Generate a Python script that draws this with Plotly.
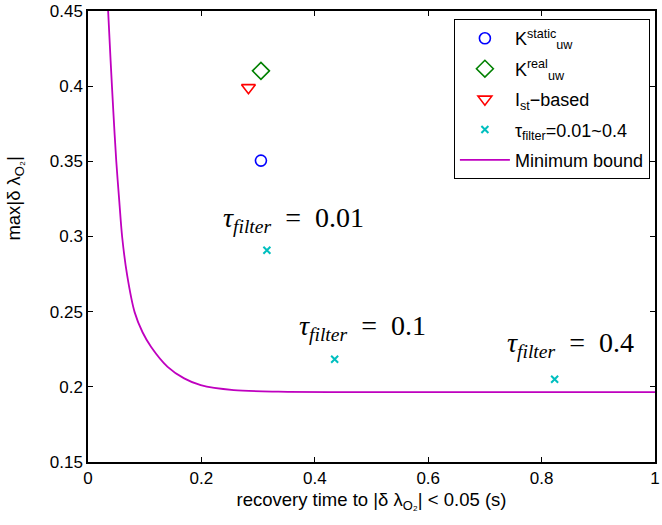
import plotly.graph_objects as go

# ---- data ----
static_x = [0.305]
static_y = [0.3505]
real_x = [0.305]
real_y = [0.4102]
ist_x = [0.283]
ist_y = [0.399]
tau_x = [0.3155, 0.435, 0.823]
tau_y = [0.2908, 0.2184, 0.2051]
tau_labels = ["0.01", "0.1", "0.4"]
tau_label_x = [0.362, 0.484, 0.851]
tau_label_y = [0.311, 0.2395, 0.228]

bound_x = [0.0355, 0.0399, 0.0446, 0.0498, 0.0551, 0.0603, 0.0691, 0.0822, 0.0962,
           0.1114, 0.1404, 0.1696, 0.1988, 0.2570, 0.3357, 0.458, 0.6, 0.8, 1.0]
bound_y = [0.45, 0.4168, 0.3836, 0.3504, 0.3239, 0.2995, 0.2741, 0.2497, 0.2363,
           0.2265, 0.2133, 0.2056, 0.2011, 0.1978, 0.1968, 0.1965, 0.1965, 0.1965, 0.1965]

x_ticks = [0, 0.2, 0.4, 0.6, 0.8, 1]
x_ticktext = ["0", "0.2", "0.4", "0.6", "0.8", "1"]
y_ticks = [0.15, 0.2, 0.25, 0.3, 0.35, 0.4, 0.45]
y_ticktext = ["0.15", "0.2", "0.25", "0.3", "0.35", "0.4", "0.45"]

SANS = "Liberation Sans, Arial, sans-serif"
SERIF = "Liberation Serif, Times New Roman, serif"

fig = go.Figure()
fig.add_trace(go.Scatter(x=static_x, y=static_y, mode="markers", legendgroup="a",
                         name="K<sup>static</sup><sub>uw</sub>",
                         marker=dict(symbol="circle-open", size=11, color="#0000FF",
                                     line=dict(width=1.6, color="#0000FF"))))
fig.add_trace(go.Scatter(x=real_x, y=real_y, mode="markers", legendgroup="b",
                         name="K<sup>real</sup><sub>uw</sub>",
                         marker=dict(symbol="diamond-open", size=13, color="#008000",
                                     line=dict(width=1.6, color="#008000"))))
fig.add_trace(go.Scatter(x=ist_x, y=ist_y, mode="markers", legendgroup="c",
                         name="I<sub>st</sub>−based",
                         marker=dict(symbol="triangle-down-open", size=12, color="#FF0000",
                                     line=dict(width=1.6, color="#FF0000"))))
fig.add_trace(go.Scatter(x=tau_x, y=tau_y, mode="markers", legendgroup="d",
                         name="τ<sub>filter</sub>=0.01~0.4",
                         marker=dict(symbol="x-thin-open", size=7, color="#00BFBF",
                                     line=dict(width=2, color="#00BFBF"))))
fig.add_trace(go.Scatter(x=bound_x, y=bound_y, mode="lines", legendgroup="e",
                         name="Minimum bound", line_shape="spline",
                         line=dict(color="#BF00BF", width=1.8, smoothing=0.8)))

for lx, ly, lt in zip(tau_label_x, tau_label_y, tau_labels):
    fig.add_annotation(x=lx, y=ly, xref="x", yref="y", showarrow=False,
                       text="<i>τ<sub>filter</sub></i>&nbsp;&nbsp;=&nbsp;&nbsp;" + lt,
                       font=dict(family=SERIF, size=28, color="black"),
                       xanchor="center", yanchor="middle")

# y-axis label (placed as rotated text, as in the reference)
fig.add_annotation(x=-0.128, y=0.585, xref="paper", yref="paper", showarrow=False,
                   text="max|δ λ<sub>O₂</sub>|", textangle=-90,
                   font=dict(family=SANS, size=18.5, color="black"),
                   xanchor="center", yanchor="middle")

axis_common = dict(showline=True, linecolor="black", linewidth=1.5, mirror="ticks",
                   ticks="inside", ticklen=5, tickwidth=1.2, tickcolor="black",
                   showgrid=False, zeroline=False, ticklabeloverflow="allow",
                   tickfont=dict(family=SANS, size=17, color="black"))

fig.update_layout(
    width=662, height=525,
    margin=dict(l=88, r=2, t=10, b=63),
    paper_bgcolor="white", plot_bgcolor="white",
    showlegend=True,
    legend=dict(x=0.991, y=0.982, xanchor="right", yanchor="top",
                bgcolor="white", bordercolor="black", borderwidth=1,
                font=dict(family=SANS, size=18, color="black"),
                tracegroupgap=4, itemwidth=50),
    xaxis=dict(range=[0, 1], tickvals=x_ticks, ticktext=x_ticktext,
               title=dict(text="recovery time to |δ λ<sub>O₂</sub>| &lt; 0.05 (s)",
                          font=dict(family=SANS, size=18.5, color="black"), standoff=6),
               **axis_common),
    yaxis=dict(range=[0.15, 0.45], tickvals=y_ticks, ticktext=y_ticktext,
               **axis_common),
)

fig.write_html("out.html")
